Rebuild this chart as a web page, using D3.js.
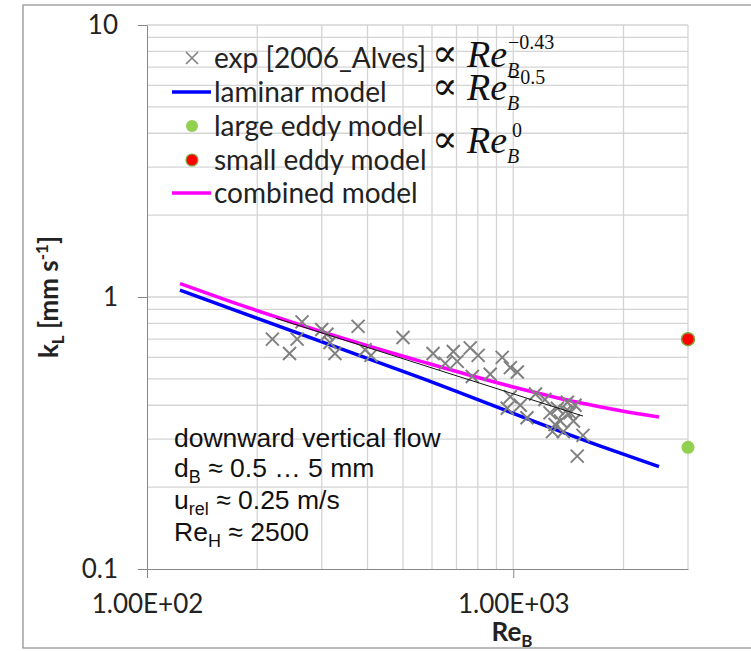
<!DOCTYPE html>
<html>
<head>
<meta charset="utf-8">
<script src="https://cdn.jsdelivr.net/npm/d3@7"></script>
<style>
  body { margin: 0; background: #fff; }
  svg { display: block; }
</style>
</head>
<body>
<div id="chart"></div>
<script>
// kL vs ReB, downward vertical flow (log-log)
const width = 751, height = 651;
const plot = {left: 147, right: 688, top: 25, bottom: 569};

// experimental points [2006_Alves]
const reExp = [220, 245, 257, 265, 300, 310, 326, 316, 377, 394, 409, 500,
  604, 652, 686, 703, 763, 802, 773, 865, 933, 982, 1026, 982, 963, 1045,
  1090, 1150, 1260, 1320, 1345, 1405, 1370, 1460, 1475, 1430, 1550, 1495,
  1280, 1220, 1390, 1300];
const kExp = [0.70, 0.62, 0.70, 0.81, 0.76, 0.73, 0.62, 0.68, 0.78, 0.64, 0.61, 0.71,
  0.62, 0.57, 0.63, 0.58, 0.65, 0.61, 0.51, 0.52, 0.60, 0.55, 0.53, 0.43, 0.39, 0.40,
  0.36, 0.44, 0.375, 0.39, 0.35, 0.41, 0.32, 0.35, 0.40, 0.375, 0.31, 0.26,
  0.32, 0.42, 0.38, 0.34];

// fit through the experiments (thin black)
const reFit = [225, 1550];
const kFit = [0.835, 0.365];

// laminar model
const reLam = [123, 557, 1730, 2500];
const kLam = [1.06, 0.505, 0.283, 0.238];

// combined model
const reComb = [123, 170, 337, 560, 1000, 1500, 2000, 2500];
const kComb = [1.12, 0.96, 0.71, 0.58, 0.467, 0.41, 0.38, 0.362];

// eddy models (single points at ReH)
const reEddy = 3000;
const kLarge = 0.28;
const kSmall = 0.70;

const xTicks = [100, 1000], xTickLabels = ["1.00E+02", "1.00E+03"];
const yTicks = [0.1, 1, 10], yTickLabels = ["0.1", "1", "10"];

const svg = d3.select("#chart").append("svg")
  .attr("width", width).attr("height", height);

// outer chart frame
svg.append("rect").attr("x", 23).attr("y", 5).attr("width", 760).attr("height", 643)
  .attr("fill", "none").attr("stroke", "#8c8c8c").attr("stroke-width", 1.2);

const x = d3.scaleLog().domain([100, 3000]).range([plot.left, plot.right]);
const y = d3.scaleLog().domain([0.1, 10]).range([plot.bottom, plot.top]);

// gridlines
const grid = svg.append("g").attr("stroke", "#d4d4d4").attr("stroke-width", 1.3);
x.ticks().filter(d => d > 100).forEach(d => {
  grid.append("line").attr("x1", x(d)).attr("x2", x(d)).attr("y1", plot.top).attr("y2", plot.bottom);
});
y.ticks().filter(d => d > 0.1).forEach(d => {
  grid.append("line").attr("x1", plot.left).attr("x2", plot.right).attr("y1", y(d)).attr("y2", y(d));
});

// axes
const axisFont = "Lato, 'DejaVu Sans', sans-serif";
const xAxis = svg.append("g").attr("transform", `translate(0,${plot.bottom})`)
  .call(d3.axisBottom(x).tickValues(xTicks).tickSize(9).tickSizeOuter(0).tickPadding(17)
    .tickFormat((d, i) => xTickLabels[i]));
const yAxis = svg.append("g").attr("transform", `translate(${plot.left},0)`)
  .call(d3.axisLeft(y).tickValues(yTicks).tickSize(9).tickSizeOuter(0).tickPadding(20)
    .tickFormat((d, i) => yTickLabels[i]));
[xAxis, yAxis].forEach(a => {
  a.select(".domain").attr("stroke", "#868686");
  a.selectAll(".tick line").attr("stroke", "#868686");
  a.selectAll("text").attr("font-family", axisFont).attr("font-size", 26).attr("fill", "#222");
});

// axis titles
const xTitle = svg.append("text").attr("x", 512).attr("y", 641)
  .attr("text-anchor", "middle").attr("font-family", axisFont).attr("font-weight", "bold")
  .attr("font-size", 26).attr("fill", "#222");
xTitle.append("tspan").text("Re");
xTitle.append("tspan").attr("font-size", 17).attr("dy", 6).text("B");

const yTitle = svg.append("text").attr("transform", "translate(58,297) rotate(-90)")
  .attr("text-anchor", "middle").attr("font-family", axisFont).attr("font-weight", "bold")
  .attr("font-size", 26).attr("fill", "#222");
yTitle.append("tspan").text("k");
yTitle.append("tspan").attr("font-size", 17).attr("dy", 6).text("L");
yTitle.append("tspan").attr("dy", -6).text(" [mm s");
yTitle.append("tspan").attr("font-size", 17).attr("dy", -10).text("-1");
yTitle.append("tspan").attr("dy", 10).text("]");

// model lines
const line = (xs, ys) => d3.line().curve(d3.curveMonotoneX)
  .x((d, i) => x(xs[i])).y((d, i) => y(ys[i]))(xs);

svg.append("path").attr("d", line(reLam, kLam))
  .attr("fill", "none").attr("stroke", "#0000ff").attr("stroke-width", 3.5);
svg.append("path").attr("d", line(reComb, kComb))
  .attr("fill", "none").attr("stroke", "#ff00ff").attr("stroke-width", 3.5);

// experimental crosses
const cross = 6.5;
const pts = svg.append("g").attr("stroke", "#808080").attr("stroke-width", 2);
reExp.forEach((re, i) => {
  const cx = x(re), cy = y(kExp[i]);
  pts.append("path").attr("d", `M${cx - cross},${cy - cross}L${cx + cross},${cy + cross}M${cx - cross},${cy + cross}L${cx + cross},${cy - cross}`);
});

svg.append("path").attr("d", line(reFit, kFit))
  .attr("fill", "none").attr("stroke", "#111").attr("stroke-width", 1);

// eddy model points
svg.append("circle").attr("cx", x(reEddy)).attr("cy", y(kLarge)).attr("r", 6.5)
  .attr("fill", "#92d050");
svg.append("circle").attr("cx", x(reEddy)).attr("cy", y(kSmall)).attr("r", 6.5)
  .attr("fill", "#ff0000").attr("stroke", "#7fa840").attr("stroke-width", 1.5);

// legend
const legendFont = 28;
const legend = svg.append("g").attr("font-family", axisFont).attr("font-size", legendFont).attr("fill", "#222");
const legendRows = [
  {label: "exp [2006_Alves]", y: 58, type: "cross"},
  {label: "laminar model", y: 92, type: "line", color: "#0000ff"},
  {label: "large eddy model", y: 126, type: "dot", color: "#92d050"},
  {label: "small eddy model", y: 160, type: "dot", color: "#ff0000"},
  {label: "combined model", y: 193, type: "line", color: "#ff00ff"}
];
legendRows.forEach(r => {
  if (r.type === "cross") {
    legend.append("path").attr("d", `M186,52L198,64M186,64L198,52`).attr("stroke", "#808080").attr("stroke-width", 1.6);
  } else if (r.type === "line") {
    legend.append("line").attr("x1", 172).attr("x2", 211).attr("y1", r.y).attr("y2", r.y)
      .attr("stroke", r.color).attr("stroke-width", 3.5);
  } else {
    legend.append("circle").attr("cx", 192).attr("cy", r.y).attr("r", 6)
      .attr("fill", r.color).attr("stroke", r.color === "#ff0000" ? "#7fa840" : "none").attr("stroke-width", 1.2);
  }
  legend.append("text").attr("x", 214).attr("y", r.y).attr("dy", "0.35em").text(r.label);
});

// proportionality formulas
const formulas = [
  {y: 67, sup: "\u22120.43", supX: 508, supY: 49},
  {y: 100, sup: "\u22120.5", supX: 509, supY: 84},
  {y: 153, sup: "0", supX: 512, supY: 137}
];
const serif = "'Liberation Serif', 'DejaVu Serif', serif";
formulas.forEach(f => {
  svg.append("text").attr("x", 432).attr("y", f.y - 1).attr("font-family", serif)
    .attr("font-size", 38).attr("fill", "#111").text("\u221D");
  svg.append("text").attr("x", 467).attr("y", f.y).attr("font-family", serif)
    .attr("font-style", "italic").attr("font-size", 38).attr("fill", "#111").text("Re");
  svg.append("text").attr("x", 507).attr("y", f.y + 10).attr("font-family", serif)
    .attr("font-style", "italic").attr("font-size", 20).attr("fill", "#111").text("B");
  svg.append("text").attr("x", f.supX).attr("y", f.supY).attr("font-family", serif)
    .attr("font-size", 20).attr("fill", "#111").text(f.sup);
});

// conditions annotation
const note = svg.append("g").attr("font-family", "'Liberation Sans', Arial, sans-serif")
  .attr("font-size", 26.5).attr("fill", "#111");
const noteLines = [
  {y: 447, parts: [["downward vertical flow"]]},
  {y: 477, parts: [["d"], ["B", "sub"], [" \u2248 0.5 \u2026 5 mm"]]},
  {y: 509, parts: [["u"], ["rel", "sub"], [" \u2248 0.25 m/s"]]},
  {y: 541, parts: [["Re"], ["H", "sub"], [" \u2248 2500"]]}
];
noteLines.forEach(l => {
  const t = note.append("text").attr("x", 174).attr("y", l.y);
  l.parts.forEach(p => {
    const s = t.append("tspan").text(p[0]);
    if (p[1] === "sub") s.attr("font-size", 18).attr("dy", 6);
    else if (t.selectAll("tspan").size() > 1) s.attr("dy", -6);
  });
});
</script>
</body>
</html>
